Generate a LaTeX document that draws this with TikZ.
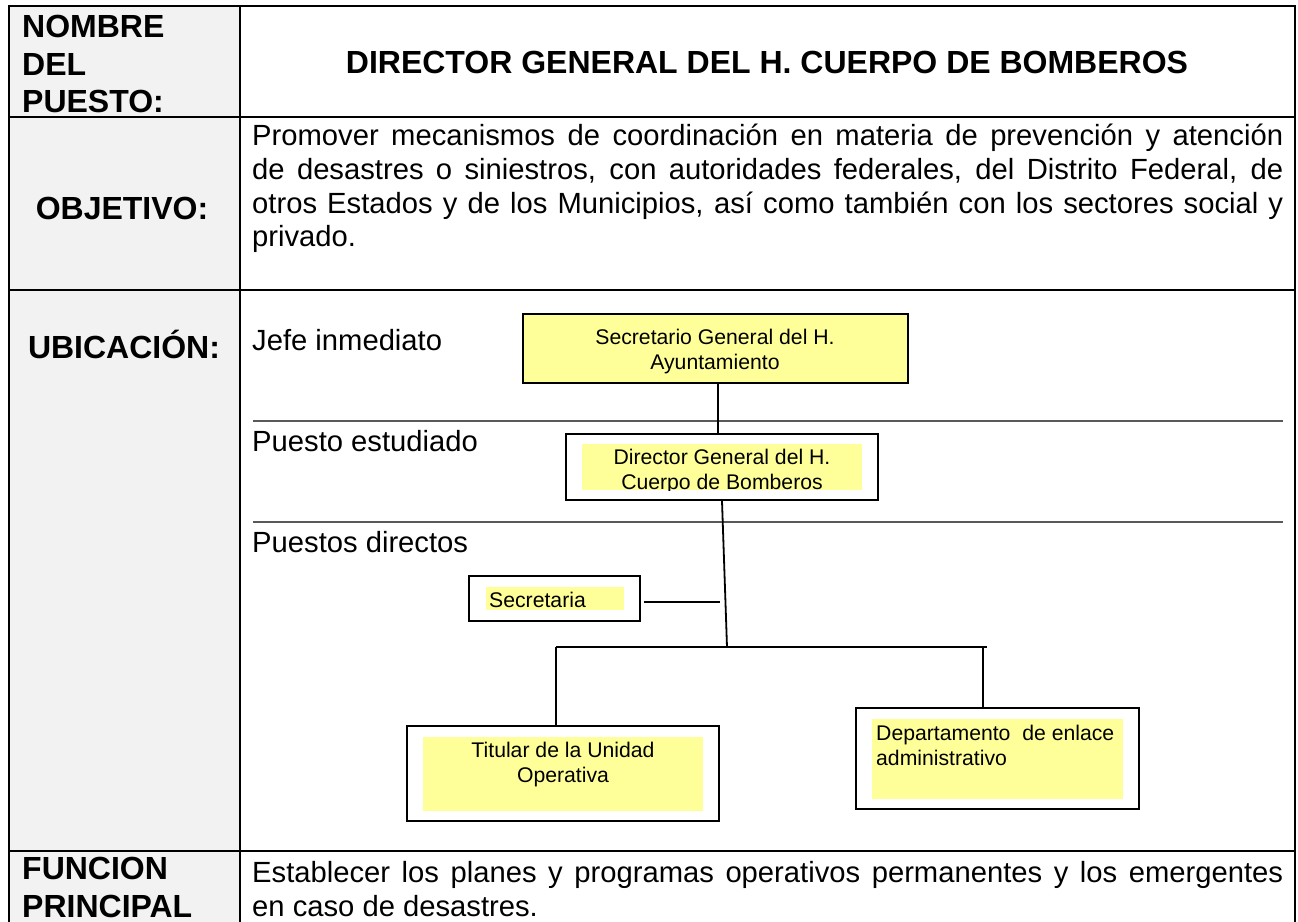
\documentclass[tikz,border=0pt]{standalone}
\usepackage{fontspec}
\setmainfont{Liberation Sans}
\definecolor{hilite}{RGB}{255,255,153}
\definecolor{cellgray}{RGB}{242,242,242}
\newcommand\fbody{\fontsize{29.2}{33.7}\selectfont}
\newcommand\fhead{\fontsize{32}{37.5}\selectfont\bfseries}
\newcommand\forg{\fontsize{21.2}{25}\selectfont}
\tikzset{
  headtxt/.style={font=\fhead,inner sep=0pt},
  bodytxt/.style={font=\fbody,inner sep=0pt},
  orgtxt/.style={font=\forg,inner sep=0pt,align=center},
  orgbox/.style={draw,line width=1.8pt,fill=white,inner sep=0pt},
  sepline/.style={black!65,line width=1.3pt},
  link/.style={line width=1.8pt},
}
\begin{document}
\begin{tikzpicture}[x=1pt,y=-1pt]
\clip (0,0) rectangle (1298,921);

% gray first column
\fill[cellgray] (9,6) rectangle (240,925);

% table grid
\draw[line width=2pt] (9,925) -- (9,6) -- (1295,6) -- (1295,925);
\draw[line width=2pt] (240,6) -- (240,925);
\foreach \y in {117,290,851}
  \draw[line width=2pt] (9,\y) -- (1295,\y);

% first column labels
\node[headtxt,anchor=north west,align=left] (nombre) at (22,15) {NOMBRE\\DEL\\PUESTO:};
\node[headtxt] (objlab) at (122,208) {OBJETIVO:};
\node[headtxt,anchor=base] (ubilab) at (124,358) {UBICACIÓN:};
\node[headtxt,anchor=north west,align=left] (funlab) at (22,857) {FUNCION\\PRINCIPAL};

% second column texts
\node[headtxt] (puesto) at (767,62) {DIRECTOR GENERAL DEL H. CUERPO DE BOMBEROS};
\node[bodytxt,anchor=north west,text width=1031pt,align=justify] (objtxt) at (252,124)
  {Promover mecanismos de coordinación en materia de prevención y atención\linebreak
   de desastres o siniestros, con autoridades federales, del Distrito Federal, de\linebreak
   otros Estados y de los Municipios, así como también con los sectores social y\linebreak
   privado.};
\node[bodytxt,anchor=north west,text width=1031pt,align=justify] (funtxt) at (252,861)
  {Establecer los planes y programas operativos permanentes y los emergentes\linebreak
   en caso de desastres.};

% ubicacion rows
\node[bodytxt,anchor=base west] (jefe) at (252,350) {Jefe inmediato};
\node[bodytxt,anchor=base west] (estud) at (252,451) {Puesto estudiado};
\node[bodytxt,anchor=base west] (direc) at (252,552) {Puestos directos};
\draw[sepline] (253,421) -- (1283,421);
\draw[sepline] (253,522) -- (1283,522);

% org chart boxes
\node[orgbox,fill=hilite,minimum width=385pt,minimum height=69pt] (sgral) at (715.5,348.5) {};
\node[orgtxt,anchor=north] (sgraltxt) at (715,329) {Secretario General del H.\\Ayuntamiento};

\node[orgbox,minimum width=312pt,minimum height=66pt] (dirgral) at (722,467) {};
\fill[hilite] (582,444) rectangle (862,490);
\begin{scope}
\clip (582,444) rectangle (862,490);
\node[orgtxt,anchor=north] (dirtxt) at (722,449) {Director General del H.\\Cuerpo de Bomberos};
\end{scope}

\node[orgbox,minimum width=171pt,minimum height=45pt] (secre) at (554.5,598.5) {};
\fill[hilite] (486,587) rectangle (624,610);
\node[orgtxt,anchor=base west] (secretxt) at (489,607) {Secretaria};

\node[orgbox,minimum width=312pt,minimum height=95pt] (titular) at (563,773.5) {};
\fill[hilite] (423,737) rectangle (703,811);
\node[orgtxt,anchor=north] (tittxt) at (563,742) {Titular de la Unidad\\Operativa};

\node[orgbox,minimum width=283pt,minimum height=101pt] (depto) at (997.5,758.5) {};
\fill[hilite] (872,719) rectangle (1123,799);
\node[orgtxt,anchor=north west,align=left] (deptotxt) at (876,725) {Departamento\ \ de enlace\\administrativo};

% connectors
\coordinate (hub) at (727,647);
\coordinate (secj) at (720,602);
\coordinate (brl) at (556,647);
\coordinate (brr) at (987,647);
\draw[link] ([xshift=2.5pt]sgral.south) -- ([xshift=2.5pt]sgral.south |- dirgral.north);
\draw[link] (dirgral.south) -- (hub);
\draw[link] ([xshift=3pt]secre.east |- secj) -- (secj);
\draw[link] (brl) -- (brr);
\draw[link] (brl) -- (brl |- titular.north);
\draw[link] ([xshift=-4pt]brr) -- ([xshift=-4pt]brr |- depto.north);

\end{tikzpicture}
\end{document}
